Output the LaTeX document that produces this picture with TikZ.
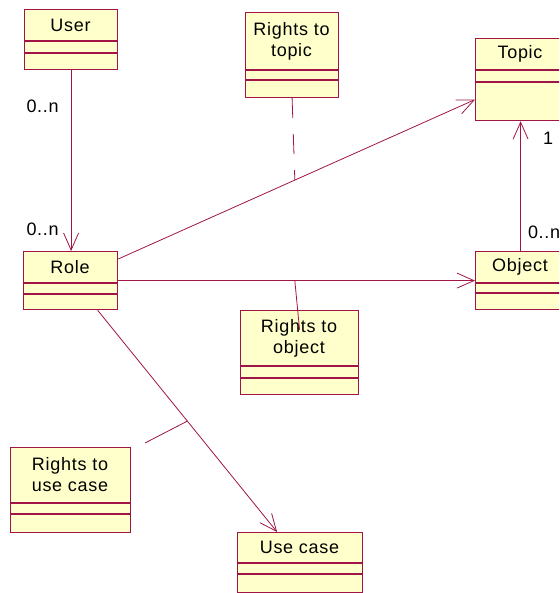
\documentclass[tikz,border=0pt]{standalone}
\usepackage{fontspec}
\setmainfont{Liberation Sans}[LetterSpace=4]
\usetikzlibrary{arrows.meta, calc}

\definecolor{umlred}{RGB}{160,20,70}
\definecolor{umlfill}{RGB}{255,255,204}

\tikzset{
    classbox/.style={fill=umlfill, draw=umlred, line width=1.2pt, inner sep=0pt},
    classname/.style={align=center, inner sep=0pt, text=black,
        font=\fontsize{18}{21}\selectfont},
    assoc/.style={umlred, line width=0.8pt,
        -{Straight Barb[length=17pt, width=15pt]}},
    link/.style={umlred, line width=0.8pt},
    mult/.style={inner sep=0pt, text=black, font=\fontsize{18}{21}\selectfont}
}

% name, left, top, right, bottom, first divider, second divider, text
\newcommand{\umlclass}[8]{%
    \node[classbox, anchor=north west, minimum width={(#4-#2)*1pt},
        minimum height={(#5-#3)*1pt}] (#1) at (#2, #3) {};
    \draw[umlred, line width=1.2pt] (#2, #6) -- (#4, #6) (#2, #7) -- (#4, #7);
    \node[classname] (#1-name) at ({(#2+#4)/2}, {(#3+#6)/2}) {#8};
}

\begin{document}
\begin{tikzpicture}[x=1pt, y=-1pt]
        \useasboundingbox (0, 0) rectangle (559, 593);
        \clip (0, 0) rectangle (559, 593);
        \umlclass{User}{24}{9}{117}{69}{41}{53}{User}
        \umlclass{RightsTopic}{245}{12}{338}{97}{70}{80}{Rights to\\topic}
        \umlclass{Topic}{475}{38}{565}{120}{70}{82}{Topic}
        \umlclass{Role}{23}{251}{117}{309}{283}{294}{Role}
        \umlclass{Object}{475}{251}{565}{309}{283}{293}{Object}
        \umlclass{RightsObject}{240}{310}{358}{394}{366}{378}{Rights to\\object}
        \umlclass{RightsUseCase}{10}{447}{130}{532}{503}{514}{Rights to\\use case}
        \umlclass{UseCase}{237}{532}{362}{592}{563}{574}{Use case}
        \coordinate (ucfree) at (145, 443);
        \draw[assoc] (User.south) -- (User.south |- Role.north)
            node[mult, pos=0.2, left=12pt] (userMult) {0..n}
            node[mult, pos=0.88, left=12pt] (roleMult) {0..n};
        \draw[assoc] ([yshift=-8pt]Role.north east) -- ([yshift=-20pt]Topic.west)
            coordinate[pos=0.495] (topiclink);
        \draw[assoc] (Role.east) -- (Object.west)
            coordinate[pos=0.495] (objectlink);
        \draw[assoc] (Object.north) -- (Topic.south)
            node[mult, pos=0.145, right=7pt] (objectMult) {0..n}
            node[mult, pos=0.87, right=22pt] (topicMult) {1};
        \draw[assoc] ([xshift=27pt]Role.south) -- ([xshift=-23pt]UseCase.north)
            coordinate[pos=0.5] (ucaselink);
        \draw[link, dash pattern=on 20pt off 16pt] (RightsTopic.south) -- (topiclink);
        \draw[link] (objectlink) -- ([yshift=-20pt]RightsObject.north);
        \draw[link] (ucfree) -- (ucaselink);
    \end{tikzpicture}
\end{document}
